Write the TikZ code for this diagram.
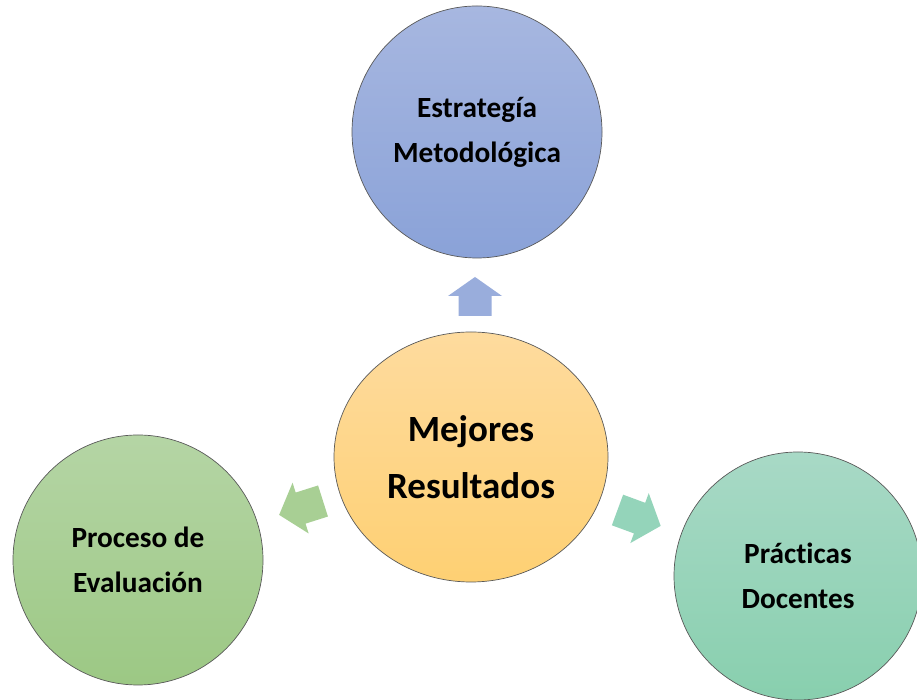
\documentclass[tikz,border=0pt]{standalone}
\usepackage{fontspec}
\setmainfont[Ligatures={NoCommon,NoRare,NoContextual}]{Carlito}
\usetikzlibrary{shapes.geometric}
\definecolor{bluetop}{HTML}{A7B7E0}
\definecolor{bluebot}{HTML}{8AA2D8}
\definecolor{oratop}{HTML}{FEDB9E}
\definecolor{orabot}{HTML}{FED073}
\definecolor{grntop}{HTML}{B5D5A5}
\definecolor{grnbot}{HTML}{9CC884}
\definecolor{teatop}{HTML}{A8D9C6}
\definecolor{teabot}{HTML}{88CFAE}
\definecolor{arrblue}{HTML}{99ADDC}
\definecolor{arrgreen}{HTML}{A8CF94}
\definecolor{arrteal}{HTML}{94D4BA}
\begin{document}
\begin{tikzpicture}[x=1pt,y=1pt,
  bubble/.style={ellipse, draw=black!65, line width=0.7pt, shading=axis,
    align=center, inner sep=0pt, font=\bfseries\fontsize{29.3}{45}\selectfont}]
\clip (0,0) rectangle (917,700);
\fill[white] (0,0) rectangle (917,700);
% nodes
\node[bubble, minimum width=250, minimum height=252, top color=bluetop, bottom color=bluebot] (top) at (477,568) {Estrategía\\Metodológica};
\node[bubble, minimum width=274, minimum height=250, top color=oratop, bottom color=orabot,
  font=\bfseries\fontsize{37}{57}\selectfont] (mid) at (471,243) {Mejores\\Resultados};
\node[bubble, minimum width=250, minimum height=250, top color=grntop, bottom color=grnbot] (left) at (138,140) {Proceso de\\Evaluación};
\node[bubble, minimum width=248, minimum height=248, top color=teatop, bottom color=teabot] (right) at (798,124) {Prácticas\\Docentes};
% block arrows
\coordinate (aup) at (475,384);
\coordinate (alf) at (323,199);
\coordinate (art) at (617.5,190);
\begin{scope}[shift={(aup)}, rotate=90]
  \fill[arrblue] (0,-16.5) -- (20,-16.5) -- (20,-27) -- (39,0) -- (20,27) -- (20,16.5) -- (0,16.5) -- cycle;
\end{scope}
\begin{scope}[shift={(alf)}, rotate=197.6]
  \fill[arrgreen] (0,-16.3) -- (23.5,-16.3) -- (23.5,-26.6) -- (46,0) -- (23.5,26.6) -- (23.5,16.3) -- (0,16.3) -- cycle;
\end{scope}
\begin{scope}[shift={(art)}, rotate=-20.2]
  \fill[arrteal] (0,-16.3) -- (23.5,-16.3) -- (23.5,-26.6) -- (46,0) -- (23.5,26.6) -- (23.5,16.3) -- (0,16.3) -- cycle;
\end{scope}
\end{tikzpicture}
\end{document}
